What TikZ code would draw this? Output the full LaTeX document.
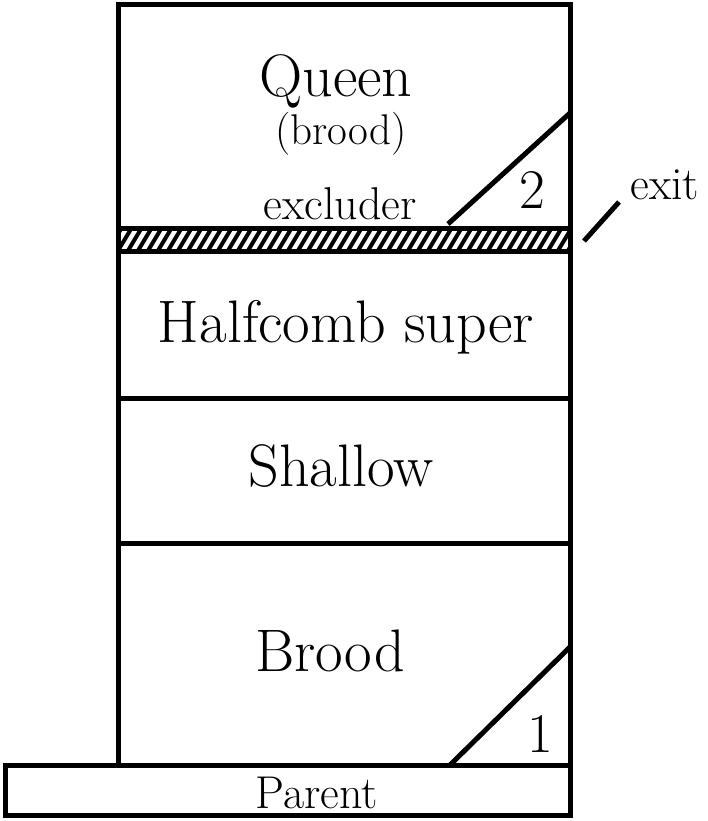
\documentclass[tikz,border=0pt]{standalone}
\usetikzlibrary{calc}

\newcommand{\boxtxt}{\fontsize{60}{60}\selectfont}
\newcommand{\midtxt}{\fontsize{46}{46}\selectfont}
\newcommand{\smalltxt}{\fontsize{43}{43}\selectfont}
\newcommand{\numtxt}{\fontsize{56}{56}\selectfont}

\begin{document}
\begin{tikzpicture}[x=1pt,y=-1pt,line width=5pt,
    lbl/.style={anchor=base,inner sep=0pt}]
        \useasboundingbox (0,0) rectangle (708,821);
        % excluder hatching
        \begin{scope}
            \clip (118,228) rectangle (570,250);
            \foreach \x in {96,106,...,590} \draw[line width=4pt] (\x,254) -- (\x+18,224);
        \end{scope}
        % hive body and boxes
        \draw (118,765) -- (118,5) -- (570,5) -- (570,765);
        \draw (118,228) -- (570,228);
        \draw (118,251) -- (570,251);
        \draw (118,398) -- (570,398);
        \draw (118,543) -- (570,543);
        \draw (5,765) rectangle (570,815);
        % entrances
        \draw (448,224) -- (570,113);
        \draw (450,765) -- (570,647);
        \node[lbl] (queen) at (336,97) {\boxtxt Queen};
        \node[lbl] (qbrood) at (341,145) {\smalltxt (brood)};
        \node[lbl] (excl) at (340,219) {\midtxt excluder};
        \node[lbl] (two) at (532,208) {\numtxt 2};
        \node[lbl] (halfcomb) at (346,342) {\boxtxt Halfcomb super};
        \node[lbl] (shallow) at (341,486) {\boxtxt Shallow};
        \node[lbl] (brood) at (330,671) {\boxtxt Brood};
        \node[lbl] (one) at (540,752) {\numtxt 1};
        \node[lbl] (parent) at (317,808) {\midtxt Parent};
        \node[lbl,anchor=base west] (exit) at (628,199) {\midtxt exit};
        \coordinate (exitfoot) at (584,241);
        \coordinate (exittop) at (619,202);
        \draw (exitfoot) -- (exittop);
    \end{tikzpicture}
\end{document}
